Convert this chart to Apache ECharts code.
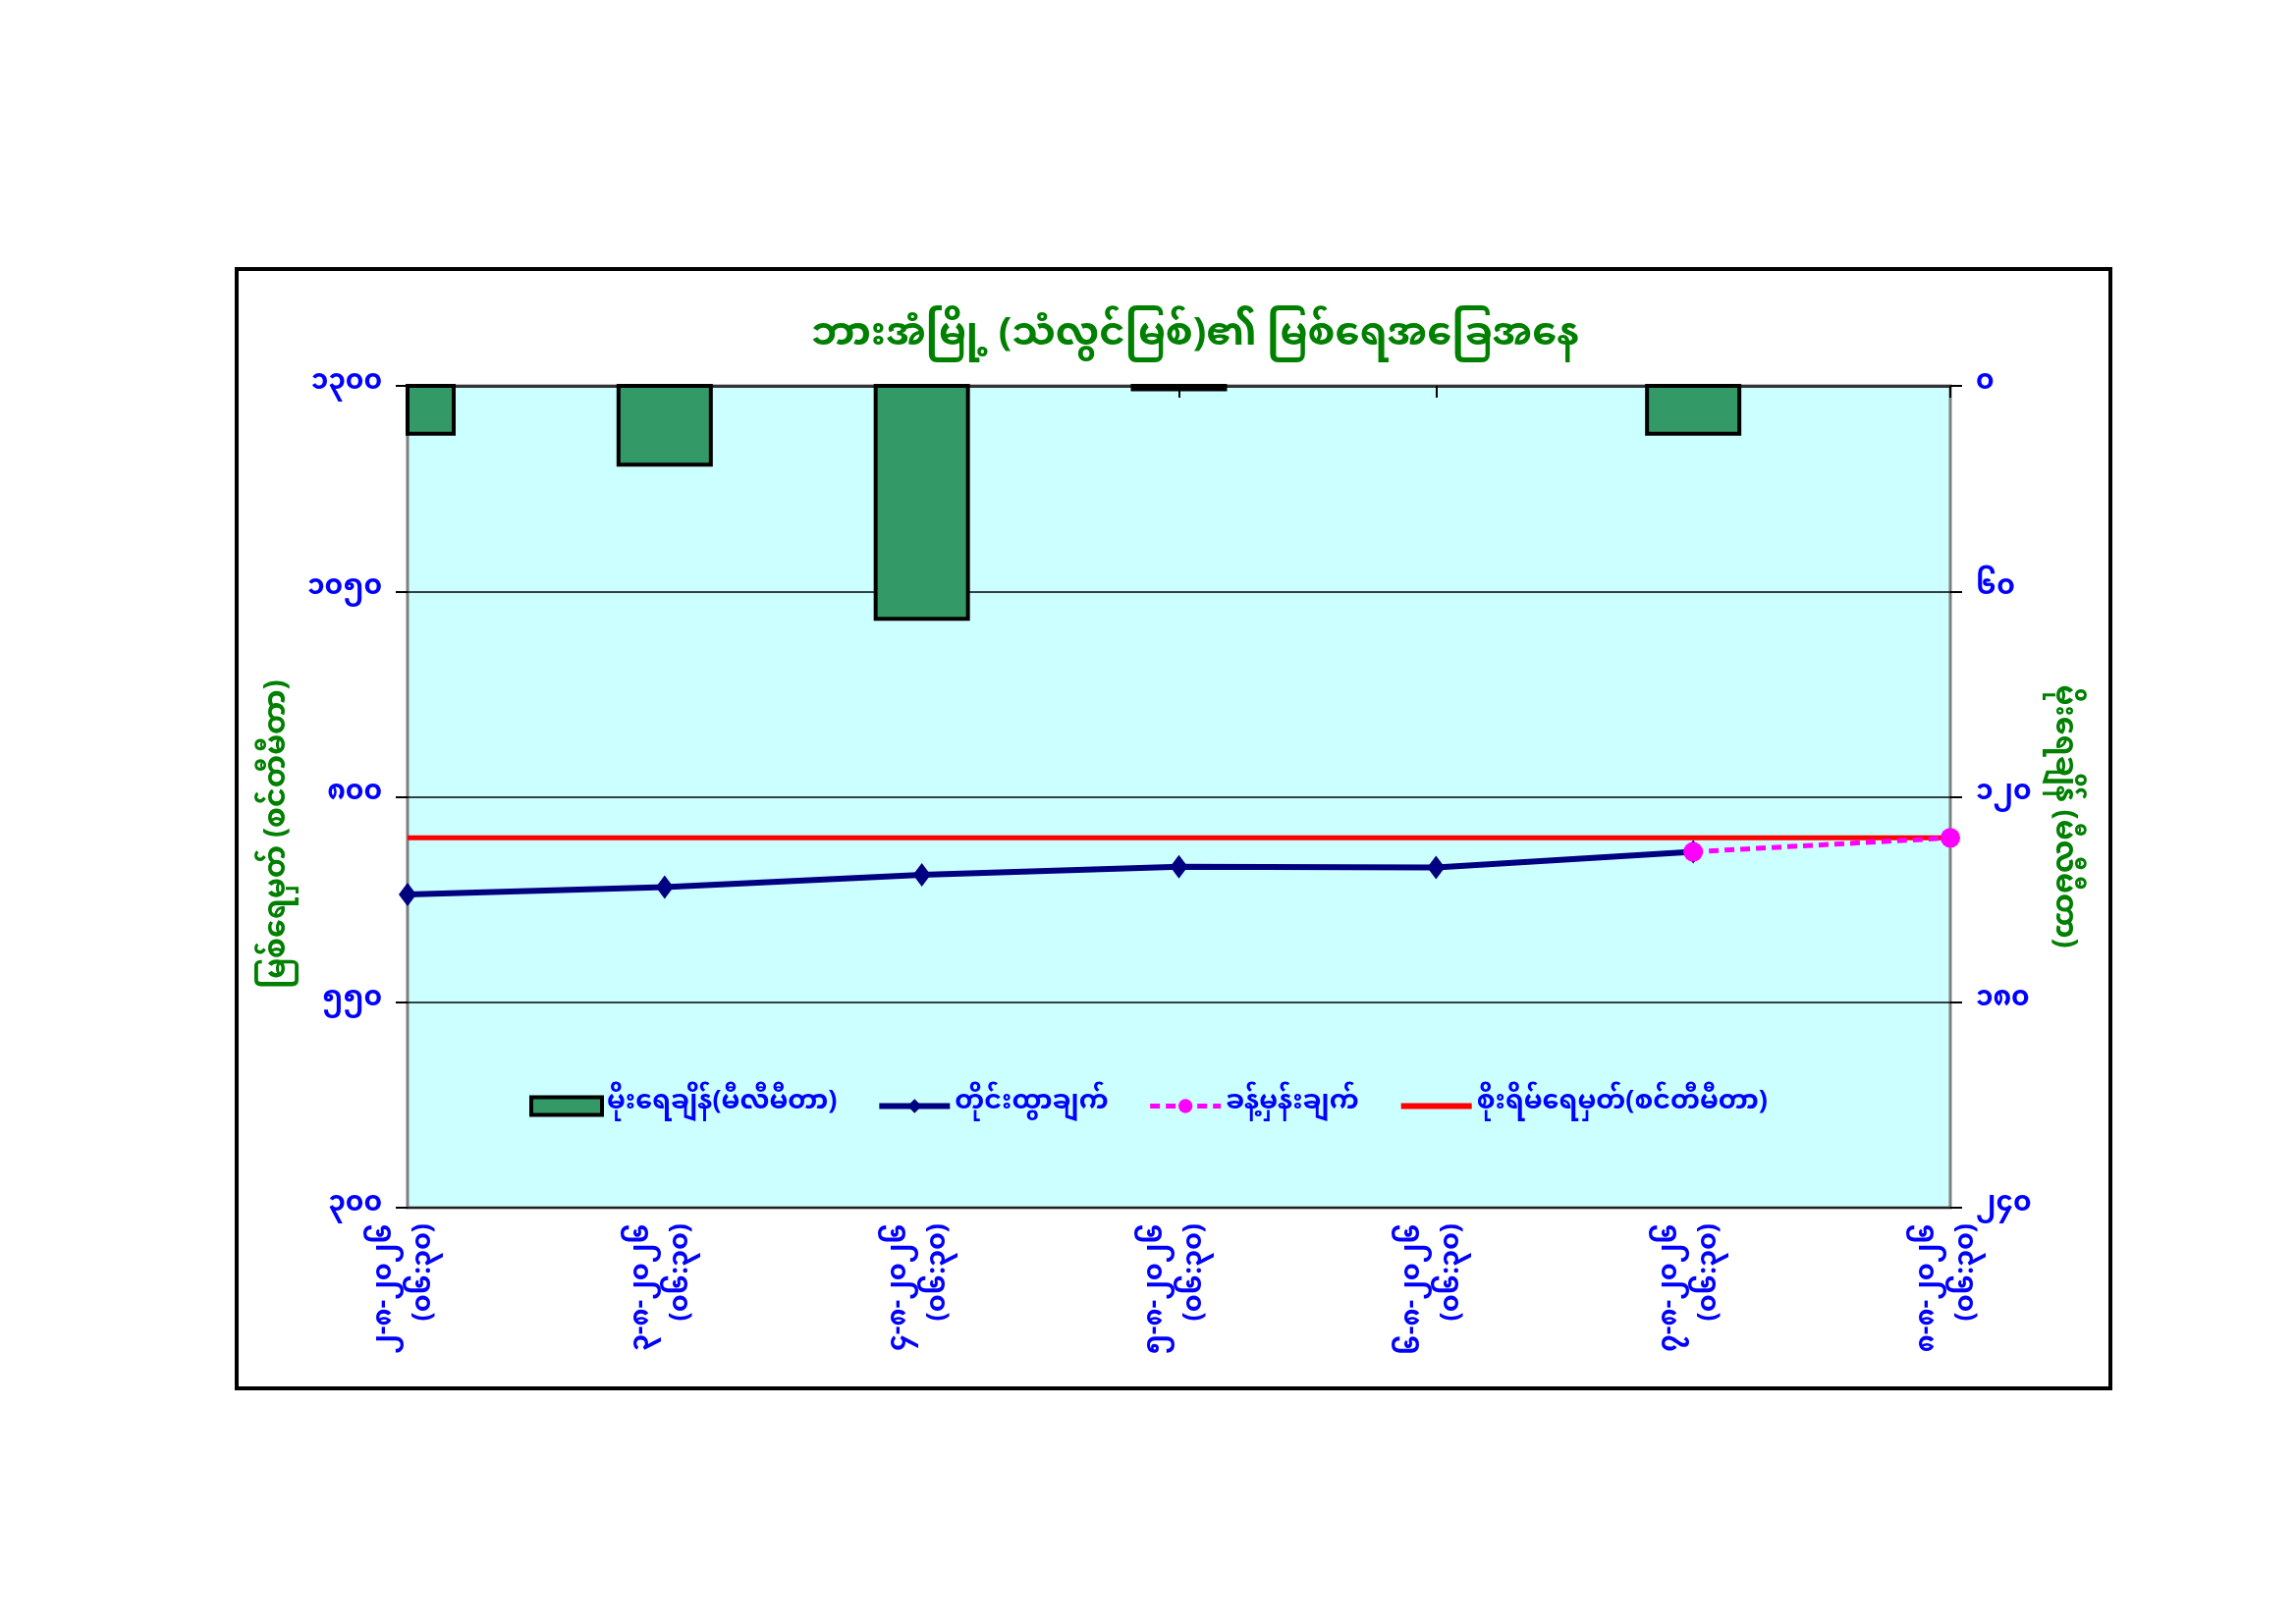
<!DOCTYPE html>
<html>
<head>
<meta charset="utf-8">
<script src="https://cdn.jsdelivr.net/npm/echarts@6/dist/echarts.min.js"></script>
<style>
  html, body { margin: 0; padding: 0; background: #fff; }
  #chart { width: 2338px; height: 1654px; }
</style>
</head>
<body>
<div id="chart"></div>
<script>
// ရက်စွဲများ (x axis)
const dates = [
  '၂-၈-၂၀၂၆\n(၀၆:၃၀)',
  '၃-၈-၂၀၂၆\n(၀၆:၃၀)',
  '၄-၈-၂၀၂၆\n(၀၆:၃၀)',
  '၅-၈-၂၀၂၆\n(၀၆:၃၀)',
  '၆-၈-၂၀၂၆\n(၀၆:၃၀)',
  '၇-၈-၂၀၂၆\n(၀၆:၃၀)',
  '၈-၈-၂၀၂၆\n(၀၆:၃၀)'
];
// rainfall (mm), right axis
const rainfall = [14, 23, 68, 1, 0, 14, 0];
// water level (cm), left axis
const observed = [681, 690, 705, 715, 714, 733, null];
const forecast = [null, null, null, null, null, 733, 750];
const dangerLevel = 750;

// tick labels
const levelTicks = [300, 550, 800, 1050, 1300];
const levelTickLabels = ['၃၀၀', '၅၅၀', '၈၀၀', '၁၀၅၀', '၁၃၀၀'];
const rainTicks = [0, 60, 120, 180, 240];
const rainTickLabels = ['၀', '၆၀', '၁၂၀', '၁၈၀', '၂၄၀'];

const FONT = "'Noto Sans Myanmar', 'Padauk', 'Myanmar Text', 'Noto Sans', 'DejaVu Sans', sans-serif";
const BLUE = '#0000FF';
const GREEN = '#008000';
const BAR_GREEN = '#339966';

const RAIN = 'မိုးရေချိန်(မီလီမီတာ)';
const OBS = 'တိုင်းထွာချက်';
const FC = 'ခန့်မှန်းချက်';
const DANGER = 'စိုးရိမ်ရေမှတ်(စင်တီမီတာ)';

const chart = echarts.init(document.getElementById('chart'));
chart.setOption({
  backgroundColor: '#ffffff',
  textStyle: { fontFamily: FONT },
  title: {
    text: 'ဘားအံမြို့ (သံလွင်မြစ်)၏ မြစ်ရေအခြေအနေ',
    left: 1212,
    textAlign: 'center',
    top: 322,
    textStyle: { color: GREEN, fontSize: 40, fontWeight: 'bold', fontFamily: FONT }
  },
  graphic: [{
    type: 'rect',
    shape: { x: 241, y: 274, width: 1908, height: 1140 },
    style: { fill: null, stroke: '#000', lineWidth: 4 },
    silent: true
  }],
  legend: {
    left: 534,
    top: 1108,
    itemWidth: 72,
    itemHeight: 18,
    itemGap: 40,
    data: [
      { name: RAIN, icon: 'rect', itemStyle: { color: BAR_GREEN, borderColor: '#000', borderWidth: 4 } },
      { name: OBS, lineStyle: { width: 6 } },
      { name: FC, lineStyle: { width: 5 } },
      { name: DANGER, lineStyle: { width: 6 }, itemStyle: { opacity: 0 } }
    ],
    textStyle: { color: BLUE, fontSize: 27, fontWeight: 'bold', fontFamily: FONT }
  },
  grid: {
    left: 415, top: 393, right: 352, bottom: 424,
    show: true,
    backgroundColor: '#CCFFFF',
    borderColor: '#808080',
    borderWidth: 3
  },
  xAxis: {
    type: 'category',
    boundaryGap: false,
    data: dates,
    axisLine: { show: true, lineStyle: { color: '#333', width: 3 } },
    axisTick: { show: true, length: 12, lineStyle: { color: '#000', width: 2 } },
    axisLabel: {
      rotate: 90,
      margin: 16,
      color: BLUE,
      fontSize: 27,
      fontWeight: 'bold',
      lineHeight: 40,
      fontFamily: FONT
    }
  },
  yAxis: [{
    type: 'value',
    position: 'left',
    min: 300, max: 1300, interval: 250,
    name: 'မြစ်ရေမှတ် (စင်တီမီတာ)',
    nameLocation: 'middle',
    nameRotate: 90,
    nameGap: 112,
    nameTextStyle: { color: GREEN, fontSize: 30, fontWeight: 'bold', fontFamily: FONT, padding: [0, 76, 0, 0] },
    axisLine: { show: false },
    axisTick: { show: true, length: 12, lineStyle: { color: '#000', width: 2 } },
    splitLine: { show: true, lineStyle: { color: '#000', width: 1.5 } },
    axisLabel: {
      margin: 26,
      color: BLUE,
      fontSize: 28,
      fontWeight: 'bold',
      fontFamily: FONT,
      formatter: v => levelTickLabels[levelTicks.indexOf(v)]
    }
  }, {
    type: 'value',
    position: 'right',
    inverse: true,
    min: 0, max: 240, interval: 60,
    name: 'မိုးရေချိန် (မီလီမီတာ)',
    nameLocation: 'middle',
    nameRotate: -90,
    nameGap: 96,
    nameTextStyle: { color: GREEN, fontSize: 30, fontWeight: 'bold', fontFamily: FONT, padding: [0, 0, 0, 40] },
    axisLine: { show: false },
    axisTick: { show: true, length: 12, lineStyle: { color: '#000', width: 2 } },
    splitLine: { show: false },
    axisLabel: {
      margin: 26,
      color: BLUE,
      fontSize: 28,
      fontWeight: 'bold',
      fontFamily: FONT,
      formatter: v => rainTickLabels[rainTicks.indexOf(v)]
    }
  }],
  series: [{
    // bars hang from the top (inverted right axis), clipped to the plot area
    name: RAIN,
    type: 'custom',
    yAxisIndex: 1,
    data: rainfall.map((v, i) => [i, v]),
    encode: { x: 0, y: 1 },
    itemStyle: { color: BAR_GREEN, borderColor: '#000', borderWidth: 4 },
    renderItem: (params, api) => {
      const v = api.value(1);
      if (!v) return null;
      const start = api.coord([api.value(0), 0]);
      const end = api.coord([api.value(0), v]);
      const w = 94;
      const cs = params.coordSys;
      const shape = echarts.graphic.clipRectByRect(
        { x: start[0] - w / 2, y: start[1], width: w, height: end[1] - start[1] },
        { x: cs.x, y: cs.y, width: cs.width, height: cs.height }
      );
      if (!shape) return null;
      return {
        type: 'rect',
        shape: shape,
        style: { fill: BAR_GREEN, stroke: '#000', lineWidth: 4 }
      };
    },
    z: 2
  }, {
    name: DANGER,
    type: 'line',
    data: dates.map(() => dangerLevel),
    symbol: 'none',
    color: '#FF0000',
    lineStyle: { color: '#FF0000', width: 5 },
    z: 3
  }, {
    name: OBS,
    type: 'line',
    data: observed,
    symbol: 'diamond',
    symbolSize: [18, 24],
    color: '#000080',
    lineStyle: { color: '#000080', width: 6 },
    itemStyle: { color: '#000080' },
    z: 4
  }, {
    name: FC,
    type: 'line',
    data: forecast,
    symbol: 'circle',
    symbolSize: 20,
    color: '#FF00FF',
    lineStyle: { color: '#FF00FF', width: 5, type: [10, 6] },
    itemStyle: { color: '#FF00FF' },
    z: 5
  }]
});
</script>
</body>
</html>
